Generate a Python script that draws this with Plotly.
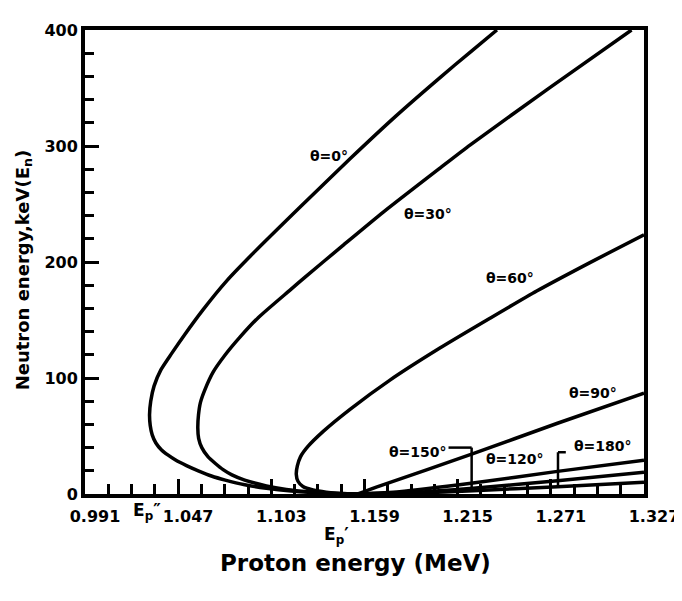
import plotly.graph_objects as go

# Proton energy (MeV) / neutron energy (keV)
ep_0 = [1.155, 1.145, 1.130, 1.115, 1.100, 1.0870, 1.0753, 1.0670, 1.0591, 1.0520, 1.0452, 1.0410, 1.0370,
        1.0336, 1.0314, 1.0302, 1.0298, 1.0305, 1.0325, 1.0366, 1.0430, 1.0512, 1.0620, 1.0763, 1.0903,
        1.1200, 1.1503, 1.1780, 1.2044, 1.2226, 1.2386]
en_0 = [0, 0.25, 1.1, 2.6, 5, 8, 12, 15.5, 20, 24.5, 29.5, 33.5, 38,
        44, 51, 59, 68.5, 80, 93, 107, 121, 138, 159, 184, 205,
        247, 289, 326, 359, 381, 400]

ep_30 = [1.155, 1.140, 1.125, 1.112, 1.100, 1.0870, 1.0793, 1.0740, 1.0692, 1.0650, 1.0612, 1.0593,
         1.0588, 1.0592, 1.0604, 1.0631, 1.0680, 1.0753, 1.0840, 1.0951, 1.1144, 1.1233, 1.1450, 1.1703,
         1.2044, 1.2226, 1.2706, 1.3195]
en_30 = [0, 0.6, 2, 4, 7, 12, 16.5, 21, 26.5, 32, 40, 48,
         57, 68, 79, 90, 105, 120, 135, 152, 176, 187, 213, 243,
         281, 301, 350.5, 400]

ep_60 = [1.155, 1.145, 1.136, 1.128, 1.122, 1.119, 1.1180, 1.1186, 1.1205, 1.1250, 1.1342, 1.1503,
         1.1743, 1.2043, 1.2344, 1.2625, 1.2945, 1.327]
en_60 = [0, 0.5, 1.6, 3.5, 6.5, 11, 17, 24, 32, 41, 54, 73,
         98.2, 125.8, 151.5, 175, 199.5, 223.5]

ep_90 = [1.155, 1.1683, 1.2234, 1.275, 1.327]
en_90 = [0, 7, 34.3, 61, 87.0]

ep_120 = [1.155, 1.180, 1.2242, 1.275, 1.327]
en_120 = [0, 2, 9.5, 19.5, 29.0]

ep_150 = [1.155, 1.190, 1.2242, 1.275, 1.327]
en_150 = [0, 1.5, 5, 11.5, 18.8]

ep_180 = [1.155, 1.190, 1.2242, 1.275, 1.327]
en_180 = [0, 0.8, 2.8, 6.3, 10.2]

x_ticks = [0.991, 1.047, 1.103, 1.159, 1.215, 1.271, 1.327]
x_tick_text = ["0.991", "1.047", "1.103", "1.159", "1.215", "1.271", "1.327"]
y_ticks = [0, 100, 200, 300, 400]
y_tick_text = ["0", "100", "200", "300", "400"]

series = [(ep_0, en_0), (ep_30, en_30), (ep_60, en_60), (ep_90, en_90),
          (ep_120, en_120), (ep_150, en_150), (ep_180, en_180)]

FONT = "DejaVu Sans"
fig = go.Figure()
for ex, ey in series:
    fig.add_trace(go.Scatter(x=ex, y=ey, mode="lines",
                             line=dict(color="black", width=3.5, shape="spline", smoothing=0.6),
                             showlegend=False, hoverinfo="skip"))

axis_common = dict(showgrid=False, zeroline=False, showline=True, linewidth=4,
                   linecolor="black", mirror=True, ticks="inside", tickcolor="black",
                   tickwidth=3, automargin=False)

fig.update_xaxes(range=[0.991, 1.327], tickvals=x_ticks, ticktext=x_tick_text,
                 ticklen=15, ticklabelshift=10, ticklabelstandoff=5, ticklabeloverflow="allow",
                 tickfont=dict(family=FONT, size=16, color="black", weight="bold"),
                 minor=dict(tick0=0.991, dtick=0.014, ticks="inside", ticklen=10,
                            tickwidth=3, tickcolor="black"),
                 **axis_common)
fig.update_yaxes(range=[0, 400], tickvals=y_ticks, ticktext=y_tick_text,
                 ticklen=14,
                 tickfont=dict(family=FONT, size=16, color="black", weight="bold"),
                 minor=dict(tick0=0, dtick=20, ticks="inside", ticklen=9,
                            tickwidth=3, tickcolor="black"),
                 **axis_common)

lab_font = dict(family=FONT, size=14, color="black", weight="bold")
labels = [
    ("θ=0°", 1.1377, 291),
    ("θ=30°", 1.1971, 241),
    ("θ=60°", 1.2464, 186),
    ("θ=90°", 1.2963, 87),
    ("θ=150°", 1.1911, 36),
    ("θ=120°", 1.2494, 30),
    ("θ=180°", 1.3023, 41),
]
annotations = [dict(text=t, x=x, y=y, xref="x", yref="y", showarrow=False, font=lab_font)
               for t, x, y in labels]
big = dict(family=FONT, size=17, color="black", weight="bold")
annotations += [
    dict(text="E<sub>p</sub>″", x=1.0285, y=0, xref="x", yref="paper", yshift=-31,
         showarrow=False, font=big),
    dict(text="E<sub>p</sub>′", x=1.1420, y=0, xref="x", yref="paper", yshift=-55,
         showarrow=False, font=big),
    dict(text="Proton energy (MeV)", x=(355 - 85) / 559, y=0, xref="paper", yref="paper",
         yshift=-(563 - 494), showarrow=False, xanchor="center", yanchor="middle",
         font=dict(family=FONT, size=23, color="black", weight="bold")),
    dict(text="Neutron energy,keV(E<sub>n</sub>)", x=-61 / 559, y=0.482,
         xref="paper", yref="paper", showarrow=False, textangle=-90,
         xanchor="center", yanchor="middle",
         font=dict(family=FONT, size=18, color="black", weight="bold")),
]

# leader lines for θ=150° and θ=180°
shapes = [
    dict(type="line", xref="x", yref="y", x0=1.2095, y0=40, x1=1.2234, y1=40,
         line=dict(color="black", width=2.5)),
    dict(type="line", xref="x", yref="y", x0=1.2234, y0=40, x1=1.2234, y1=en_150[2] + 1,
         line=dict(color="black", width=2.5)),
    dict(type="line", xref="x", yref="y", x0=1.2753, y0=36, x1=1.2800, y1=36,
         line=dict(color="black", width=2.5)),
    dict(type="line", xref="x", yref="y", x0=1.2753, y0=36, x1=1.2753, y1=en_180[3],
         line=dict(color="black", width=2.5)),
]

# page body adds an 8 px offset, so the figure is 8 px smaller and margins shifted
fig.update_layout(width=674, height=593, margin=dict(l=77, r=38, t=22, b=107),
                  paper_bgcolor="white", plot_bgcolor="white",
                  annotations=annotations, shapes=shapes)

fig.write_html("out.html")
